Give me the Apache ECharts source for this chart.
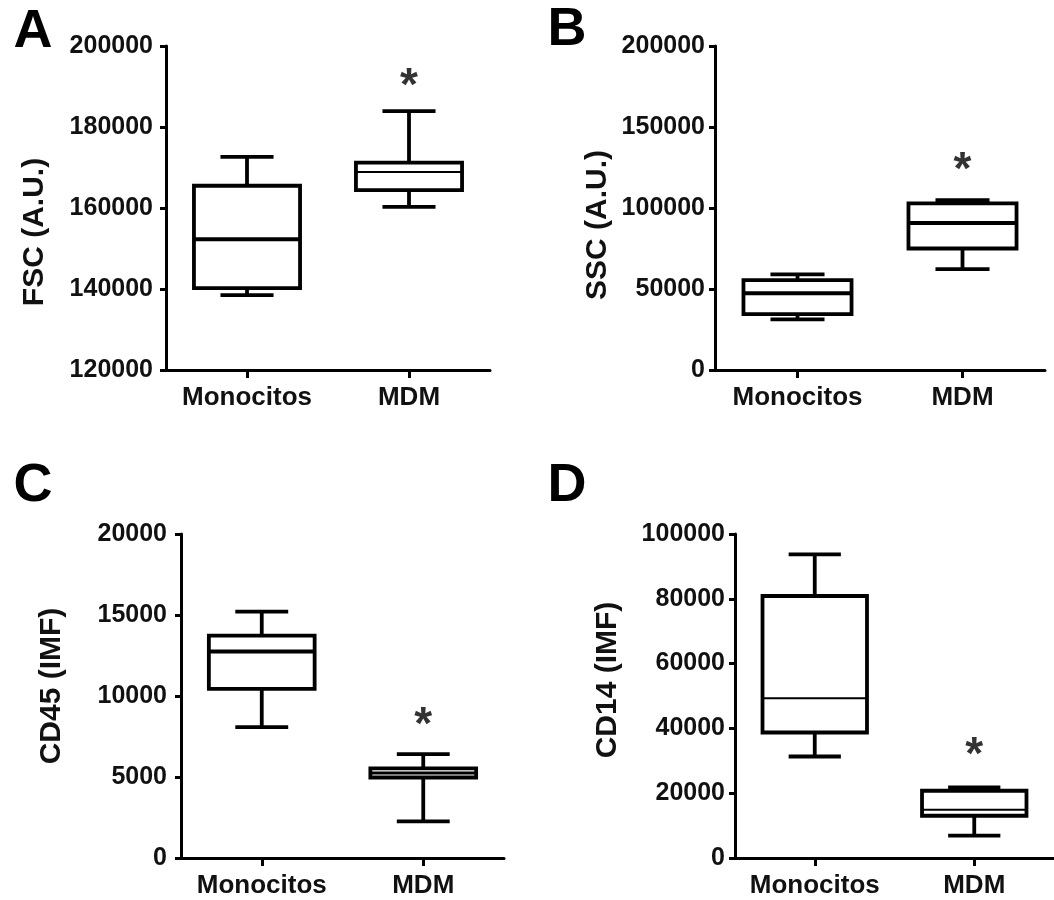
<!DOCTYPE html>
<html><head><meta charset="utf-8">
<script src="https://cdn.jsdelivr.net/npm/echarts@6/dist/echarts.min.js"></script>
<style>html,body{margin:0;padding:0;background:#fff}#c{width:1054px;height:900px}</style>
</head><body><div id="c"></div>
<script>
// ---- data ----
const categories = ['Monocitos', 'MDM'];
// each box: [min, Q1, median, Q3, max]
const fscValues  = [[138500, 140200, 152300, 165500, 172600], [160300, 164400, 168900, 171200, 183900]];
const sscValues  = [[31300, 34500, 47300, 55500, 59000], [62300, 75000, 90800, 102800, 104800]];
const cd45Values = [[8080, 10440, 12740, 13730, 15210], [2260, 4970, 5240, 5530, 6410]];
const cd14Values = [[31330, 38730, 49330, 80870, 93730], [6880, 13040, 14890, 20750, 21770]];
// y tick labels
const fscTicks  = [120000, 140000, 160000, 180000, 200000];
const sscTicks  = [0, 50000, 100000, 150000, 200000];
const cd45Ticks = [0, 5000, 10000, 15000, 20000];
const cd14Ticks = [0, 20000, 40000, 60000, 80000, 100000];
// significance markers: [category index, value]
const fscStar  = [1, 192000];
const sscStar  = [1, 128000];
const cd45Star = [1, 8700];
const cd14Star = [1, 34200];
const panelLetters = ['A', 'B', 'C', 'D'];
const axisNames = ['FSC (A.U.)', 'SSC (A.U.)', 'CD45 (IMF)', 'CD14 (IMF)'];

// ---- layout / style ----
const FONT = '"Liberation Sans", Arial, Helvetica, sans-serif';
const INK = '#111';
const layout = [
  {grid: {left: 166, top: 46, width: 324, height: 324}, letter: [33, 32], name: [35, 232], margin: 13, medianW: [4, 2]},
  {grid: {left: 715, top: 46, width: 330, height: 324}, letter: [567, 30], name: [598, 225], margin: 10, medianW: [4, 4]},
  {grid: {left: 181, top: 534, width: 323, height: 324}, letter: [33, 486], name: [52, 686], margin: 14, medianW: [4, 3]},
  {grid: {left: 735, top: 534, width: 327, height: 324}, letter: [567, 486], name: [608, 680], margin: 10, medianW: [2, 2]}
];
const panelData = [
  {values: fscValues, ticks: fscTicks, star: fscStar},
  {values: sscValues, ticks: sscTicks, star: sscStar},
  {values: cd45Values, ticks: cd45Ticks, star: cd45Star},
  {values: cd14Values, ticks: cd14Ticks, star: cd14Star}
];

function makeRender(medianW) {
  return function (params, api) {
    const ci = api.value(0);
    const pMin = api.coord([ci, api.value(1)]);
    const pQ1 = api.coord([ci, api.value(2)]);
    const pMed = api.coord([ci, api.value(3)]);
    const pQ3 = api.coord([ci, api.value(4)]);
    const pMax = api.coord([ci, api.value(5)]);
    const band = api.size([1, 0])[0];
    const bw = band * 0.655;
    const cx = pMin[0];
    const half = bw / 4;
    const st = {stroke: '#000', lineWidth: 3.8, fill: null};
    return {type: 'group', children: [
      {type: 'line', shape: {x1: cx, y1: pMin[1], x2: cx, y2: pQ1[1]}, style: st},
      {type: 'line', shape: {x1: cx, y1: pQ3[1], x2: cx, y2: pMax[1]}, style: st},
      {type: 'line', shape: {x1: cx - half, y1: pMin[1], x2: cx + half, y2: pMin[1]}, style: st},
      {type: 'line', shape: {x1: cx - half, y1: pMax[1], x2: cx + half, y2: pMax[1]}, style: st},
      {type: 'rect', shape: {x: cx - bw / 2, y: pQ3[1], width: bw, height: pQ1[1] - pQ3[1]},
        style: {fill: '#fff', stroke: '#000', lineWidth: 3.8}},
      {type: 'line', shape: {x1: cx - bw / 2, y1: pMed[1], x2: cx + bw / 2, y2: pMed[1]},
        style: {stroke: '#000', lineWidth: medianW[params.dataIndex]}}
    ]};
  };
}

const grids = [], xAxes = [], yAxes = [], series = [], graphics = [];
panelData.forEach(function (p, i) {
  const L = layout[i];
  grids.push(Object.assign({containLabel: false}, L.grid));
  xAxes.push({
    type: 'category', gridIndex: i, data: categories, boundaryGap: true,
    axisLine: {lineStyle: {color: '#000', width: 3}},
    axisTick: {show: true, interval: 0, alignWithLabel: true, length: 8, lineStyle: {color: '#000', width: 3}},
    axisLabel: {show: true, interval: 0, hideOverlap: false, color: INK, fontFamily: FONT, fontWeight: 'bold', fontSize: 26, margin: 15},
    splitLine: {show: false}
  });
  const t = p.ticks;
  yAxes.push({
    type: 'value', gridIndex: i, min: t[0], max: t[t.length - 1], interval: t[1] - t[0],
    axisLine: {show: true, lineStyle: {color: '#000', width: 3}},
    axisTick: {show: true, length: 6, lineStyle: {color: '#000', width: 3}},
    axisLabel: {color: INK, fontFamily: FONT, fontWeight: 'bold', fontSize: 25, margin: L.margin,
      formatter: function (v) { return String(v); }},
    splitLine: {show: false}
  });
  series.push({
    type: 'custom', xAxisIndex: i, yAxisIndex: i,
    data: p.values.map(function (v, k) { return [k].concat(v); }),
    encode: {x: 0, y: [1, 2, 3, 4, 5]},
    renderItem: makeRender(L.medianW), silent: true
  });
  series.push({
    type: 'scatter', xAxisIndex: i, yAxisIndex: i, data: [p.star],
    symbolSize: 1, itemStyle: {color: 'rgba(0,0,0,0)'}, silent: true,
    label: {show: true, formatter: '*', position: 'inside', color: '#000',
      fontFamily: FONT, fontWeight: 'bold', fontSize: 46, offset: [0, 9]}
  });
  graphics.push({
    type: 'text', x: L.letter[0], y: L.letter[1],
    style: {text: panelLetters[i], fill: '#000', font: 'bold 54px ' + FONT, textAlign: 'center', textVerticalAlign: 'middle'}
  });
  graphics.push({
    type: 'text', x: L.name[0], y: L.name[1], rotation: Math.PI / 2,
    style: {text: axisNames[i], fill: INK, font: 'bold 30px ' + FONT, textAlign: 'center', textVerticalAlign: 'middle'}
  });
});

const chart = echarts.init(document.getElementById('c'), null, {renderer: 'canvas'});
chart.setOption({
  backgroundColor: '#fff',
  animation: false,
  grid: grids, xAxis: xAxes, yAxis: yAxes, series: series, graphic: graphics
});
</script></body></html>
